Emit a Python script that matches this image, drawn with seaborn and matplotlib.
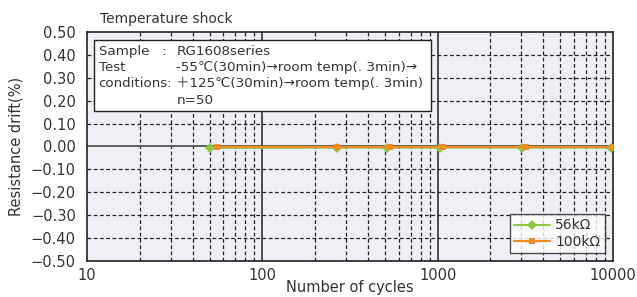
import matplotlib
matplotlib.use('Agg')
import matplotlib.pyplot as plt
import numpy as np
import pandas as pd
import seaborn as sns
from matplotlib.ticker import FixedLocator, NullFormatter
from matplotlib.patches import Rectangle

# data
cycles_56k = [50, 265, 513, 1026, 3040, 9800]
drift_56k = [-0.006, -0.005, -0.005, -0.005, -0.005, -0.005]
cycles_100k = [55, 267, 533, 1067, 3200, 10000]
drift_100k = [-0.001, -0.002, -0.002, -0.002, -0.002, -0.002]
series_names = ['56kΩ', '100kΩ']
y_ticks = [0.5, 0.4, 0.3, 0.2, 0.1, 0.0, -0.1, -0.2, -0.3, -0.4, -0.5]
x_ticks = [10, 100, 1000, 10000]

df = pd.DataFrame({
    'cycles': cycles_56k + cycles_100k,
    'drift': drift_56k + drift_100k,
    'series': [series_names[0]] * len(cycles_56k) + [series_names[1]] * len(cycles_100k),
})

sns.set_style('white')
plt.rcParams['font.family'] = ['DejaVu Sans', 'Noto Sans CJK JP']
plt.rcParams['text.color'] = '#333333'
plt.rcParams['axes.labelcolor'] = '#333333'
plt.rcParams['xtick.color'] = '#333333'
plt.rcParams['ytick.color'] = '#333333'

fig = plt.figure(figsize=(6.37, 2.97), dpi=100)
ax = fig.add_axes([0.1366, 0.1212, 0.8257, 0.7711])
ax.set_facecolor('#EFEFF6')

sns.lineplot(data=df, x='cycles', y='drift', hue='series', style='series',
             markers={'56kΩ': 'D', '100kΩ': 's'}, dashes=False,
             palette={'56kΩ': '#8DC63F', '100kΩ': '#F08C24'},
             markersize=5, markeredgewidth=0, linewidth=1.5, ax=ax, zorder=5)

ax.set_xscale('log')
ax.set_xlim(10, 10000)
ax.set_ylim(-0.5, 0.5)
ax.xaxis.set_major_locator(FixedLocator(x_ticks))
ax.set_xticklabels([str(t) for t in x_ticks])
minor = [m * 10 ** d for d in range(1, 4) for m in range(2, 10)]
ax.xaxis.set_minor_locator(FixedLocator(minor))
ax.xaxis.set_minor_formatter(NullFormatter())
ax.set_yticks(y_ticks)
ax.set_yticklabels([f'{t:.2f}'.replace('-', '−') for t in y_ticks])

# grid
for m in minor:
    ax.axvline(m, color='#222222', lw=0.9, ls=(0, (3, 2)), zorder=1)
for v in [100, 1000]:
    ax.axvline(v, color='#222222', lw=1.1, zorder=1)
for t in y_ticks[1:-1]:
    if t == 0:
        ax.axhline(t, color='#555555', lw=1.3, zorder=1)
    else:
        ax.axhline(t, color='#222222', lw=0.9, ls=(0, (3, 2)), zorder=1)

for s in ax.spines.values():
    s.set_visible(True)
    s.set_color('#222222')
    s.set_linewidth(1.2)

ax.tick_params(axis='x', which='both', labelsize=10.5, length=0, pad=5)
ax.tick_params(axis='y', which='both', labelsize=10.5, direction='in',
               length=3, width=0.8, pad=8)

ax.set_xlabel('Number of cycles', fontsize=10.5, labelpad=-2)
ax.set_ylabel('Resistance drift(%)', fontsize=10.5, labelpad=5)
fig.text(0.157, 0.936, 'Temperature shock', fontsize=10, ha='left', va='center')

# condition box
ax.add_patch(Rectangle((0.0135, 0.655), 0.641, 0.31, transform=ax.transAxes,
                       facecolor='white', edgecolor='#222222', lw=1.0, zorder=6))
lines_l = ['Sample   :', 'Test', 'conditions:', '']
lines_r = ['RG1608series', '-55℃(30min)→room temp(. 3min)→',
           '＋125℃(30min)→room temp(. 3min)', 'n=50']
for i, (l, r) in enumerate(zip(lines_l, lines_r)):
    yy = 0.913 - i * 0.07
    ax.text(0.022, yy, l, transform=ax.transAxes, fontsize=9.6, va='center', zorder=7)
    ax.text(0.17, yy, r, transform=ax.transAxes, fontsize=9.7, va='center', zorder=7)

leg = ax.legend(loc='lower right', frameon=True, fontsize=10, fancybox=False,
                borderaxespad=0.6, handlelength=2.6, labelspacing=0.15,
                borderpad=0.3, handletextpad=0.4)
leg.get_frame().set_edgecolor('#222222')
leg.get_frame().set_linewidth(1.0)
leg.set_zorder(8)

fig.savefig('out.png', dpi=100)
